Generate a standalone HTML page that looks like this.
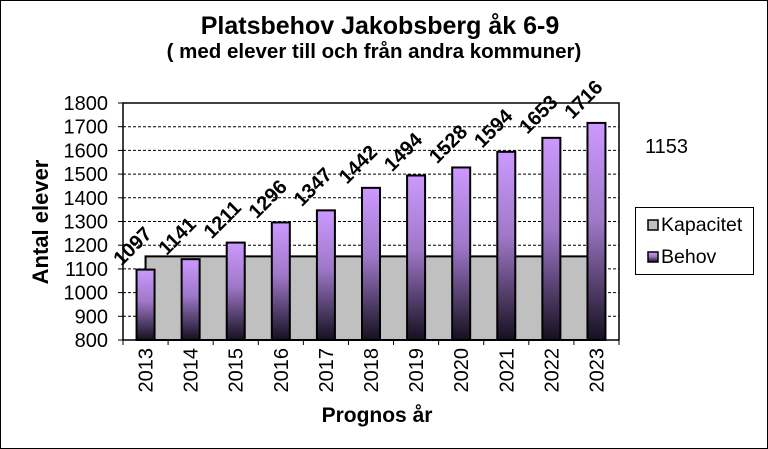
<!DOCTYPE html>
<html><head><meta charset="utf-8"><style>
body{margin:0;background:#fff}
svg{display:block;font-family:"Liberation Sans",Arial,sans-serif}
</style></head><body>
<svg id="chart" width="768" height="449" viewBox="0 0 768 449">
<defs>
<linearGradient id="bg" x1="0" y1="0" x2="0" y2="1">
<stop offset="0" stop-color="#cc99ff"/><stop offset="0.45" stop-color="#9f78c8"/><stop offset="1" stop-color="#151020"/>
</linearGradient>
</defs>
<rect x="0.5" y="0.5" width="767" height="448" fill="#fff" stroke="#000"/>
<text x="380" y="34" text-anchor="middle" font-size="25" font-weight="bold">Platsbehov Jakobsberg åk 6-9</text>
<text x="374" y="58" text-anchor="middle" font-size="20.5" font-weight="bold">( med elever till  och från andra kommuner)</text>
<text x="48" y="222" transform="rotate(-90 48 222)" text-anchor="middle" font-size="22" font-weight="bold">Antal elever</text>
<text x="377" y="422" text-anchor="middle" font-size="21" font-weight="bold">Prognos år</text>
<text x="645" y="153" font-size="20">1153</text>
<g id="plot"></g>
<g>
<rect x="635.5" y="207.5" width="118" height="67" fill="#fff" stroke="#000"/>
<rect x="648" y="220" width="10" height="10" fill="#c0c0c0" stroke="#000" stroke-width="1.5"/>
<text x="661" y="231" font-size="19.5">Kapacitet</text>
<rect x="648" y="252" width="10" height="10" fill="url(#bg)" stroke="#000" stroke-width="1.5"/>
<text x="661" y="263" font-size="19.5">Behov</text>
</g>
</svg>
<script>
const categories=["2013","2014","2015","2016","2017","2018","2019","2020","2021","2022","2023"];
const behov=[1097,1141,1211,1296,1347,1442,1494,1528,1594,1653,1716];
const kapacitet=[1153,1153,1153,1153,1153,1153,1153,1153,1153,1153,1153];
const yTicks=[800,900,1000,1100,1200,1300,1400,1500,1600,1700,1800];
const L=123,R=619,T=103,B=340,ymin=800,ymax=1800;
const bw=(R-L)/categories.length;
const y=v=>B-(v-ymin)/(ymax-ymin)*(B-T);
const xc=i=>L+bw*(i+0.5);
const NS="http://www.w3.org/2000/svg";
const g=document.getElementById('plot');
function mk(t,a,txt){const e=document.createElementNS(NS,t);for(const k in a)e.setAttribute(k,a[k]);if(txt!==undefined)e.textContent=txt;g.appendChild(e);return e;}
mk('rect',{x:L,y:T,width:R-L,height:B-T,fill:'#fff'});
yTicks.forEach(v=>{
 if(v>ymin&&v<ymax){const l=mk('line',{x1:L,x2:R,y1:y(v),y2:y(v),stroke:'#000','stroke-dasharray':'3,2','stroke-width':1});
 
 }
 const t=mk('text',{x:L-15,y:y(v)+7,'text-anchor':'end','font-size':20},String(v));
 
 
 mk('line',{x1:L-5,x2:L,y1:y(v),y2:y(v),stroke:'#000'});
});
let pts=kapacitet.map((v,i)=>xc(i)+','+y(v)).join(' ');
const area=mk('polygon',{points:xc(0)+','+B+' '+pts+' '+xc(categories.length-1)+','+B,fill:'#c0c0c0',stroke:'#000','stroke-width':2});


categories.forEach((c,i)=>{
 const v=behov[i];
 const r=mk('rect',{x:xc(i)-9,y:y(v),width:18,height:B-y(v),fill:'url(#bg)',stroke:'#000','stroke-width':2});
 
 
 const lx=xc(i)-24,ly=y(v)-3;
 const t=mk('text',{x:lx,y:ly,transform:'rotate(-45 '+lx+' '+ly+')','font-size':20,'font-weight':'bold'},String(v));
 
 
 const tx=xc(i)+7,ty=348;
 const xt=mk('text',{x:tx,y:ty,transform:'rotate(-90 '+tx+' '+ty+')','text-anchor':'end','font-size':20},c);
 
 
 mk('line',{x1:L+bw*i,x2:L+bw*i,y1:B,y2:B+5,stroke:'#000'});
});
mk('line',{x1:R,x2:R,y1:B,y2:B+5,stroke:'#000'});
mk('rect',{x:L,y:T,width:R-L,height:B-T,fill:'none',stroke:'#000','stroke-width':1.5});
</script>
</body></html>
